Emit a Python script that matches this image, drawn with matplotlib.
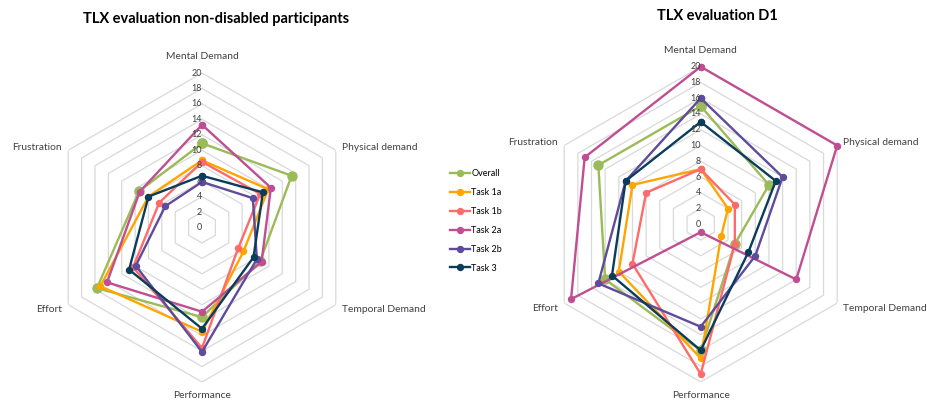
import numpy as np
import matplotlib
matplotlib.use("Agg")
import matplotlib.pyplot as plt
from matplotlib.lines import Line2D

plt.rcParams['font.family'] = ['Lato', 'DejaVu Sans']

# TLX dimensions (clockwise from the top)
dimensions = ["Mental Demand", "Physical demand", "Temporal Demand",
              "Performance", "Effort", "Frustration"]
series_names = ["Overall", "Task 1a", "Task 1b", "Task 2a", "Task 2b", "Task 3"]

# Mean scores, non-disabled participants
nd_overall = [10.9, 13.4, 8.7, 11.6, 15.7, 9.4]
nd_task1a = [8.7, 9.9, 6.2, 13.5, 15.2, 8.0]
nd_task1b = [8.5, 8.7, 5.4, 15.6, 10.3, 6.4]
nd_task2a = [13.3, 10.3, 8.9, 10.9, 14.2, 9.3]
nd_task2b = [5.9, 7.6, 8.2, 16.1, 9.9, 5.5]
nd_task3 = [6.7, 9.1, 7.7, 13.1, 10.9, 8.0]

# Scores, participant D1
d1_overall = [15, 10, 5, 16, 14, 15]
d1_task1a = [7, 4, 3, 17, 12, 10]
d1_task1b = [7, 5, 5, 19, 10, 8]
d1_task2a = [20, 20, 14, 1, 19, 17]
d1_task2b = [16, 12, 8, 13, 15, 11]
d1_task3 = [13, 11, 7, 16, 13, 11]

ring_values = list(range(0, 21, 2))

colors = ["#9BBB59", "#FFA500", "#FF6B6B", "#BF4E92", "#5F4B9B", "#0B3D5B"]
marker_sizes = [6.5, 4.3, 4.3, 4.3, 4.3, 4.3]

W, H = 927, 403
fig = plt.figure(figsize=(W / 100, H / 100), dpi=100)

angles = np.deg2rad(np.arange(len(dimensions)) * 60.0)
closed = np.append(angles, angles[0])

label_font = 7.4
tick_font = 6.5

# per-dimension label offsets (pixels) and alignment
label_layout = [
    ((0, 12), 'center', 'bottom'),
    ((6, 3), 'left', 'center'),
    ((6, -5), 'left', 'center'),
    ((0, -9), 'center', 'top'),
    ((-6, -5), 'right', 'center'),
    ((-6, 3), 'right', 'center'),
]


def radar(rect, data, title, title_xy):
    ax = fig.add_axes(rect, projection='polar')
    ax.set_theta_zero_location('N')
    ax.set_theta_direction(-1)
    ax.set_ylim(0, 20)
    ax.grid(False)
    ax.set_xticks([])
    ax.set_yticks([])
    ax.spines['polar'].set_visible(False)
    ax.patch.set_alpha(0)

    # hexagonal grid rings
    for v in ring_values[1:]:
        ax.plot(closed, [v] * len(closed), color="#D9D9D9", lw=0.9, zorder=1)

    # ring value labels along the vertical axis
    for v in ring_values:
        ax.annotate(str(v), xy=(0, v), xytext=(0, 0), textcoords='offset pixels',
                    ha='right', va='center', fontsize=tick_font, color="#404040",
                    zorder=5)

    # dimension labels
    for ang, name, (off, ha, va) in zip(angles, dimensions, label_layout):
        ax.annotate(name, xy=(ang, 20), xytext=off, textcoords='offset pixels',
                    ha=ha, va=va, fontsize=label_font, color="#404040",
                    annotation_clip=False)

    handles = []
    for vals, c, ms, name in zip(data, colors, marker_sizes, series_names):
        v = np.append(vals, vals[0])
        ln, = ax.plot(closed, v, color=c, lw=1.7, marker='o', ms=ms,
                      label=name, zorder=3, clip_on=False)
        handles.append(ln)

    fig.text(title_xy[0] / W, 1 - title_xy[1] / H, title, ha='left', va='center',
             fontsize=10.5, fontweight='bold', color="#000000")
    return handles


R1 = 154.5
c1 = (202, 227.5)
rect1 = [(c1[0] - R1) / W, (H - c1[1] - R1) / H, 2 * R1 / W, 2 * R1 / H]
handles = radar(rect1, [nd_overall, nd_task1a, nd_task1b, nd_task2a, nd_task2b, nd_task3],
                "TLX evaluation non-disabled participants", (83, 19))

R2 = 157.6
c2 = (700.7, 224.3)
rect2 = [(c2[0] - R2) / W, (H - c2[1] - R2) / H, 2 * R2 / W, 2 * R2 / H]
radar(rect2, [d1_overall, d1_task1a, d1_task1b, d1_task2a, d1_task2b, d1_task3],
      "TLX evaluation D1", (657, 16))

leg_handles = [Line2D([], [], color=c, lw=1.7, marker='o', ms=4.3) for c in colors]
fig.legend(leg_handles, series_names, loc='upper left',
           bbox_to_anchor=(450 / W, 1 - 169 / H), frameon=False,
           fontsize=6.5, handlelength=2.2, handletextpad=0.15,
           labelspacing=1.1, borderaxespad=0, borderpad=0)

fig.savefig("out.png", dpi=100, facecolor="white")
